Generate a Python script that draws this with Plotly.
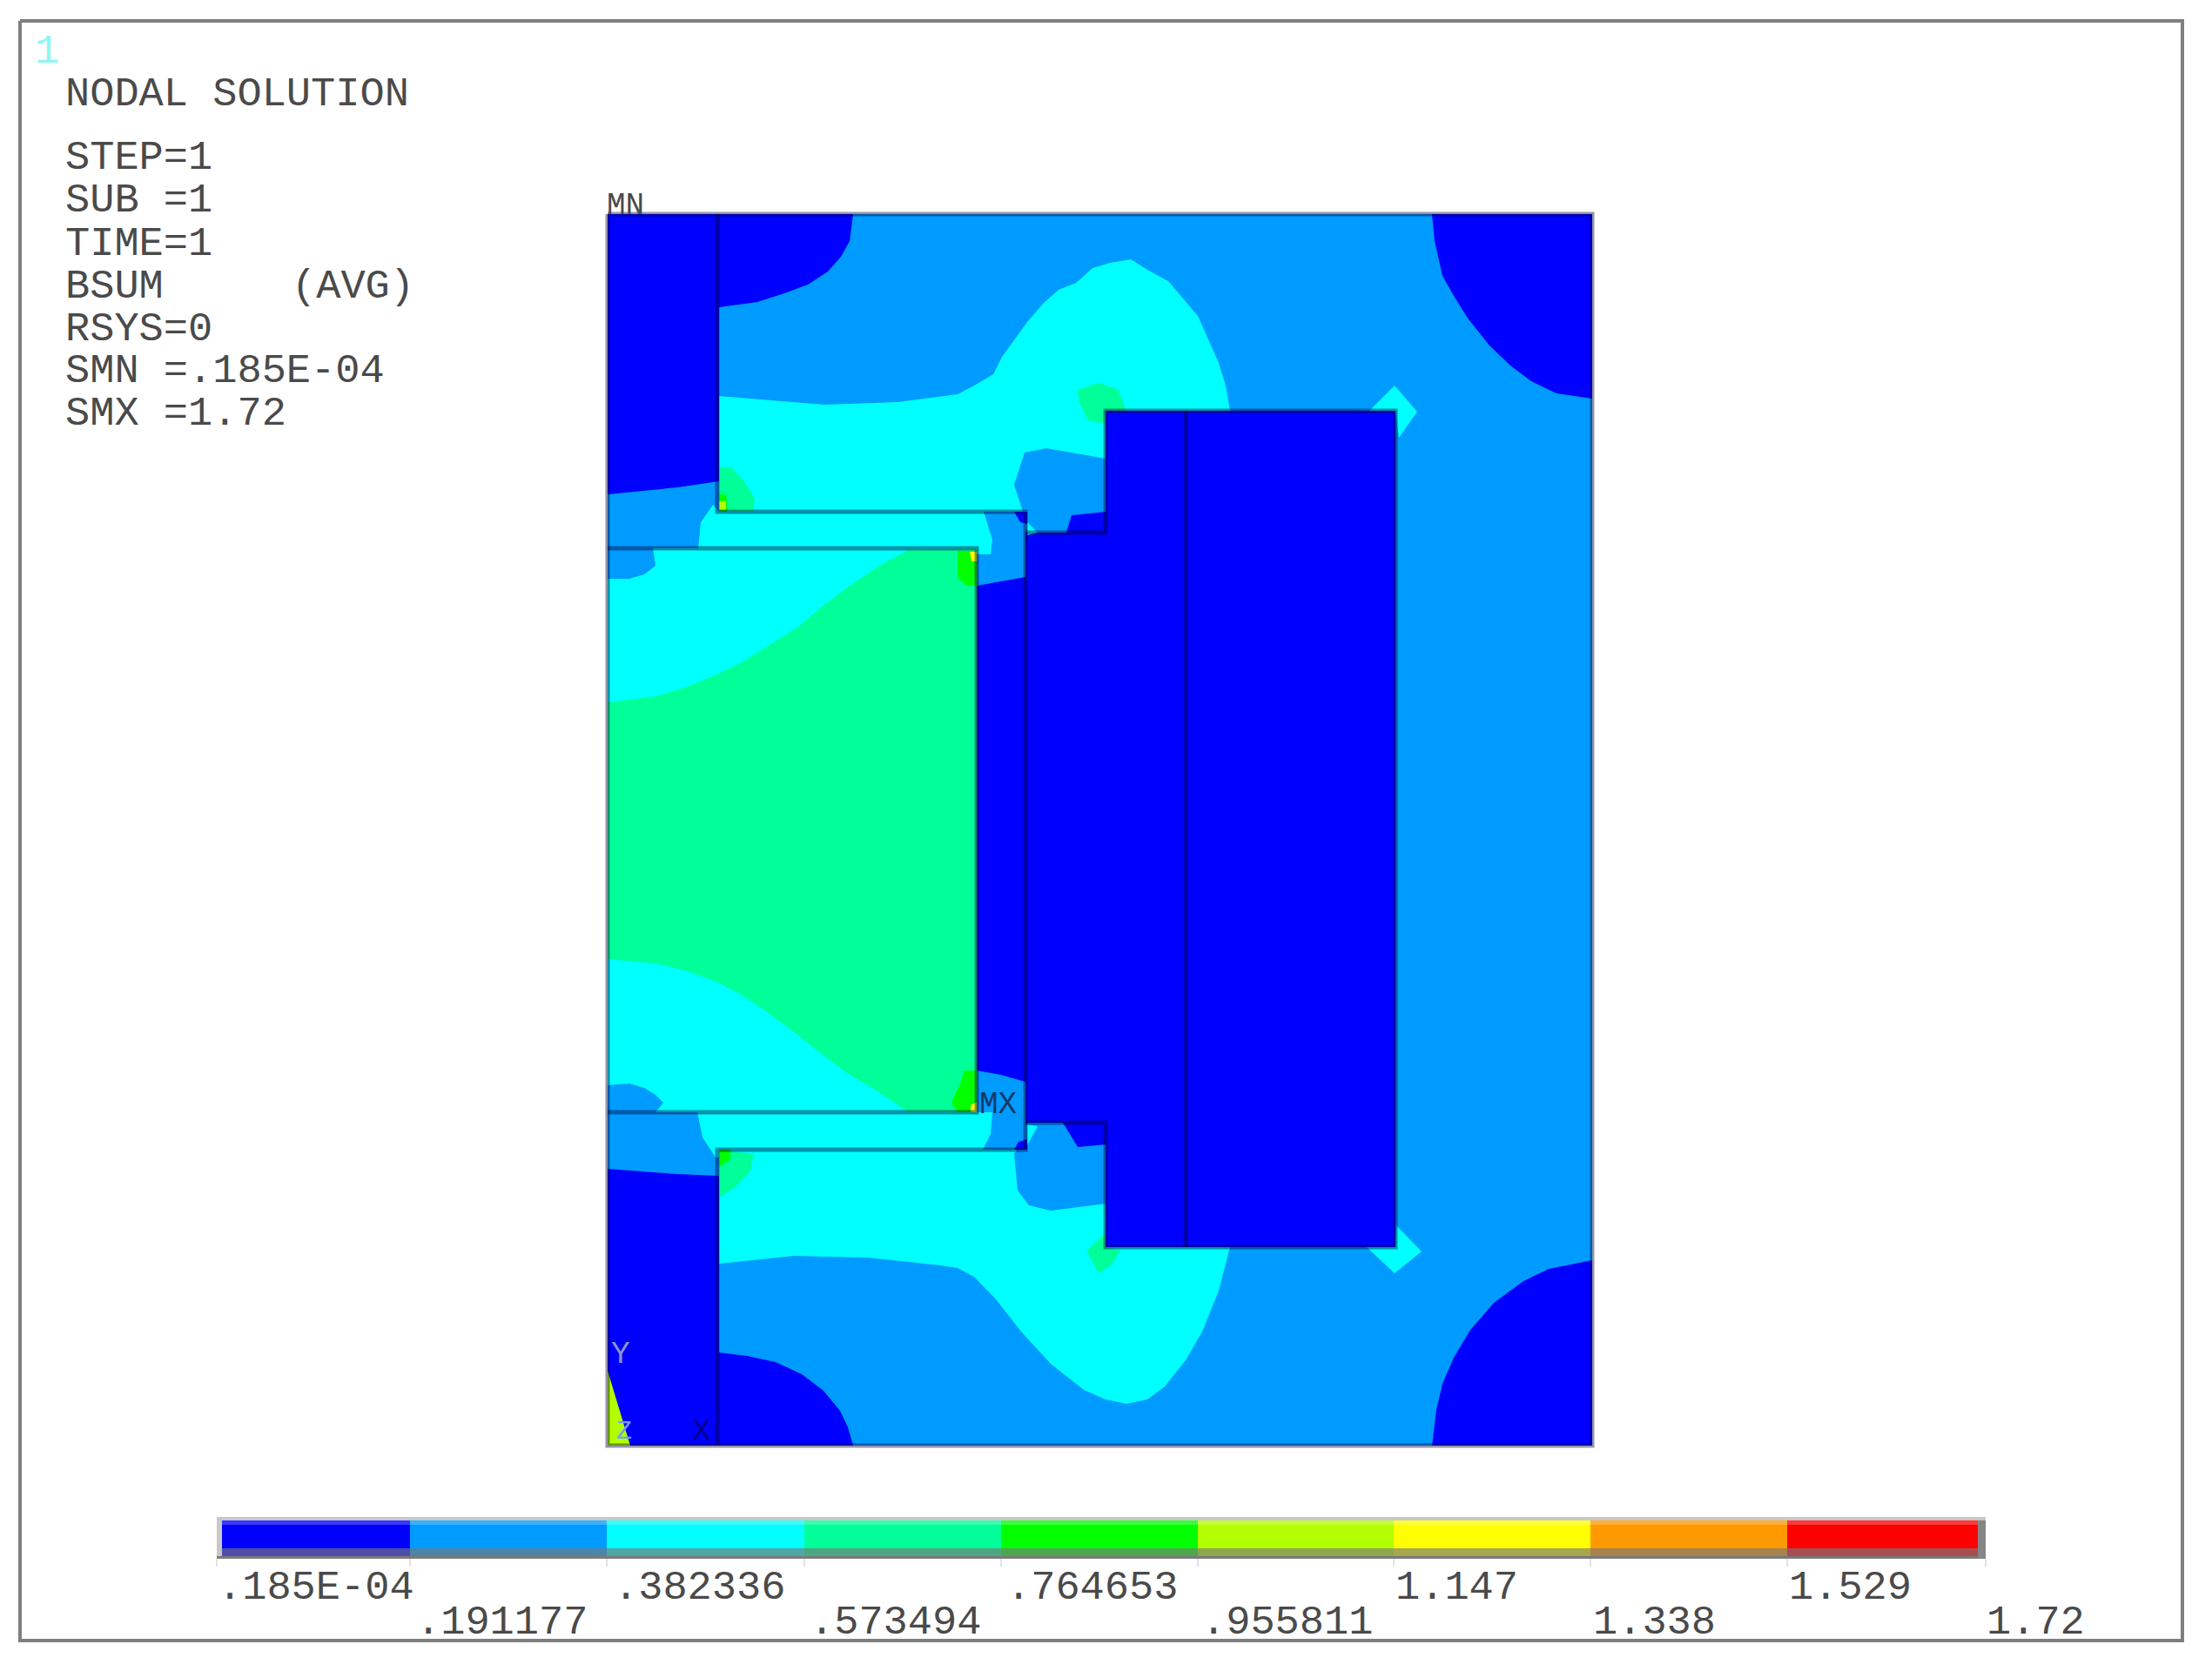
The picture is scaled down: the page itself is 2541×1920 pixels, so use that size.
import plotly.graph_objects as go

BLUE, SKY, CYAN, MINT, GREEN, LIME, YELLOW, ORANGE, RED = (
    "#0000ff", "#009bff", "#00ffff", "#00ff99", "#00ff00", "#b3ff00", "#ffff00", "#ff9900", "#ff0000")

# colour legend
LEVEL_COLORS = [BLUE, SKY, CYAN, MINT, GREEN, LIME, YELLOW, ORANGE, RED]
LEVEL_EDGES = [255, 471, 697, 924, 1150, 1376, 1601, 1827, 2053, 2272]
TICK_POS = [249, 471, 697, 924, 1150, 1376, 1601, 1827, 2053, 2281]
TICK_LABELS = [".185E-04", ".191177", ".382336", ".573494", ".764653", ".955811", "1.147", "1.338", "1.529", "1.72"]
LABEL_X = [250, 478, 705, 930, 1156, 1380, 1603, 1830, 2055, 2282]

# header text
HEADER_LINES = ["STEP=1", "SUB =1", "TIME=1", "BSUM", "RSYS=0", "SMN =.185E-04", "SMX =1.72"]
HEADER_Y = [178, 227, 277, 326, 375, 423, 472]

# contour bands, painter's order
DOMAIN = [(698, 246), (1829, 246), (1829, 1661), (698, 1661)]
COL_TOP = [(698, 246), (980, 246), (976, 277), (966, 295), (951, 312), (928, 327), (901, 337), (870, 347), (826, 353),
           (826, 553), (778, 560), (698, 568)]
COL_BOTTOM = [(698, 1343), (778, 1349), (826, 1351), (826, 1554), (858, 1558), (891, 1565), (921, 1579), (946, 1598),
              (965, 1621), (974, 1640), (980, 1661), (698, 1661)]
CORNER_TR = [(1645, 246), (1648, 277), (1657, 317), (1670, 340), (1687, 367), (1711, 397), (1735, 420), (1759, 438),
             (1788, 452), (1829, 458), (1829, 246)]
CORNER_BR = [(1645, 1661), (1650, 1620), (1657, 1590), (1670, 1560), (1689, 1528), (1716, 1497), (1750, 1472),
             (1779, 1458), (1829, 1448), (1829, 1661)]
CYAN_TOP = [(826, 455), (890, 460), (947, 465), (1031, 462), (1081, 455), (1100, 453), (1119, 443), (1141, 430),
            (1151, 410), (1163, 393), (1180, 370), (1199, 348), (1216, 333), (1236, 325), (1255, 308), (1275, 302),
            (1299, 298), (1318, 310), (1342, 323), (1359, 343), (1376, 363), (1388, 390), (1400, 417), (1408, 443),
            (1413, 472), (1270, 472), (1270, 527), (1202, 515), (1177, 520), (1165, 557), (1175, 588), (826, 588)]
CYAN_BOTTOM = [(826, 1452), (912, 1443), (997, 1445), (1081, 1454), (1100, 1457), (1119, 1467), (1144, 1493),
               (1173, 1530), (1207, 1567), (1245, 1597), (1270, 1608), (1294, 1613), (1318, 1608), (1338, 1593),
               (1362, 1563), (1381, 1530), (1400, 1483), (1413, 1433), (1270, 1433), (1270, 1383), (1207, 1391),
               (1182, 1385), (1169, 1368), (1165, 1326), (1168, 1321), (826, 1321)]
CHANNEL_TOP = [(819, 580), (805, 600), (802, 630), (1138, 637), (1140, 620), (1130, 588), (826, 588)]
CHANNEL_BOTTOM = [(801, 1278), (807, 1307), (822, 1330), (1129, 1321), (1138, 1303), (1140, 1278)]
INNER = [(698, 665), (723, 665), (740, 660), (753, 650), (750, 630), (1122, 630), (1122, 1278), (753, 1278), (762, 1267),
         (753, 1258), (740, 1250), (723, 1245), (698, 1247)]
INNER_MINT = [(698, 807), (753, 800), (787, 790), (823, 775), (850, 762), (873, 748), (917, 720), (943, 698), (973, 675),
              (1010, 650), (1043, 632), (1122, 630), (1122, 1278), (1043, 1278), (1007, 1253), (973, 1233), (940, 1208),
              (907, 1182), (877, 1160), (850, 1142), (823, 1128), (787, 1115), (753, 1107), (698, 1102)]
BAR = [(1122, 673), (1150, 668), (1178, 663), (1178, 1243), (1150, 1235), (1122, 1230)]
BLOCK = [(1178, 612), (1270, 612), (1270, 472), (1603, 472), (1603, 1433), (1270, 1433), (1270, 1290), (1178, 1290)]
NOTCH_TOP = [(1231, 592), (1270, 588), (1270, 615), (1224, 615)]
NOTCH_BOTTOM = [(1221, 1290), (1270, 1290), (1270, 1315), (1238, 1318)]
SPOT_TOP = [(1165, 588), (1180, 588), (1180, 602), (1172, 600)]
SPOT_BOTTOM = [(1165, 1321), (1180, 1321), (1180, 1309), (1170, 1312)]
SLIVER_TOP = [(1180, 600), (1192, 612), (1180, 615)]
SLIVER_BOTTOM = [(1180, 1292), (1192, 1294), (1180, 1316)]
MINT_A = [(826, 537), (840, 537), (855, 553), (867, 573), (865, 588), (826, 588)]
MINT_B = [(826, 1321), (866, 1326), (862, 1345), (845, 1364), (826, 1376)]
MINT_C = [(1238, 448), (1262, 440), (1284, 447), (1294, 472), (1270, 472), (1270, 487), (1250, 483), (1240, 463)]
MINT_D = [(1270, 1417), (1270, 1433), (1287, 1437), (1277, 1453), (1262, 1463), (1248, 1437)]
DIAMOND_TOP = [(1602, 443), (1628, 473), (1607, 503), (1603, 472), (1573, 472)]
DIAMOND_BOTTOM = [(1604, 1408), (1633, 1438), (1602, 1463), (1570, 1433), (1603, 1433)]
HOT_A = [(826, 568), (834, 568), (836, 588), (826, 588)]
HOT_B = [(826, 1321), (839, 1321), (839, 1332), (826, 1341)]
HOT_C = [(1100, 633), (1100, 663), (1110, 673), (1122, 673), (1122, 633)]
HOT_D = [(1108, 1230), (1102, 1247), (1093, 1267), (1100, 1278), (1122, 1278), (1122, 1230)]
LIME_A = [(826, 576), (834, 576), (834, 586), (826, 586)]
YEL_C = [(1114, 634), (1122, 634), (1122, 645), (1116, 645)]
YEL_D = [(1115, 1270), (1122, 1266), (1122, 1278), (1115, 1278)]
TRIAD = [(698, 1575), (724, 1661), (698, 1661)]

BANDS = [
    (DOMAIN, SKY), (COL_TOP, BLUE), (COL_BOTTOM, BLUE), (CORNER_TR, BLUE), (CORNER_BR, BLUE),
    (CYAN_TOP, CYAN), (CYAN_BOTTOM, CYAN), (CHANNEL_TOP, CYAN), (CHANNEL_BOTTOM, CYAN),
    (DIAMOND_TOP, CYAN), (DIAMOND_BOTTOM, CYAN), (INNER, CYAN), (INNER_MINT, MINT),
    (BAR, BLUE), (BLOCK, BLUE), (NOTCH_TOP, BLUE), (NOTCH_BOTTOM, BLUE), (SPOT_TOP, BLUE), (SPOT_BOTTOM, BLUE),
    (SLIVER_TOP, CYAN), (SLIVER_BOTTOM, CYAN), (MINT_A, MINT), (MINT_B, MINT), (MINT_C, MINT), (MINT_D, MINT),
    (HOT_A, GREEN), (HOT_B, GREEN), (HOT_C, GREEN), (HOT_D, GREEN), (LIME_A, LIME), (YEL_C, YELLOW), (YEL_D, YELLOW),
    (TRIAD, LIME),
]

# element outlines
OUTLINES = [
    [(698, 246), (1829, 246), (1829, 1661), (698, 1661), (698, 246)],
    [(824, 246), (824, 588), (1178, 588), (1178, 1321), (824, 1321), (824, 1661)],
    [(698, 630), (1122, 630), (1122, 1278), (698, 1278)],
    [(1178, 612), (1270, 612), (1270, 472), (1603, 472), (1603, 1433), (1270, 1433), (1270, 1290), (1178, 1290)],
    [(1362, 472), (1362, 1433)],
]
FRAME = [(23, 24), (2507, 24), (2507, 1885), (23, 1885), (23, 24)]

MONO = "Liberation Mono"
TEXT = "#4a4a4a"

fig = go.Figure()


def poly(points, color):
    fig.add_trace(go.Scatter(x=[p[0] for p in points], y=[p[1] for p in points], mode="lines", fill="toself",
                             fillcolor=color, line=dict(width=0), hoverinfo="skip", showlegend=False))


def path(points, color, width):
    fig.add_trace(go.Scatter(x=[p[0] for p in points], y=[p[1] for p in points], mode="lines",
                             line=dict(color=color, width=width), hoverinfo="skip", showlegend=False))


def label(x, y, s, size=47, color=TEXT):
    fig.add_annotation(x=x, y=y, text=s, showarrow=False, xanchor="left", yanchor="middle", align="left",
                       borderpad=0, borderwidth=0,
                       font=dict(family=MONO, size=size, color=color))


for pts, col in BANDS:
    poly(pts, col)
for pts in OUTLINES:
    path(pts, "rgba(0,0,50,0.42)", 5)
path(FRAME, "#7f7f7f", 4)

# legend bar
poly([(249, 1743), (2281, 1743), (2281, 1791), (249, 1791)], "#c8c8c8")
poly([(249, 1788), (2281, 1788), (2281, 1791), (249, 1791)], "#7a7a7a")
poly([(2272, 1747), (2281, 1747), (2281, 1791), (2272, 1791)], "#858585")
for i, col in enumerate(LEVEL_COLORS):
    a, b = LEVEL_EDGES[i], LEVEL_EDGES[i + 1]
    poly([(a, 1747), (b, 1747), (b, 1788), (a, 1788)], col)
    poly([(a, 1747), (b, 1747), (b, 1752), (a, 1752)], "rgba(255,255,255,0.22)")
    poly([(a, 1779), (b, 1779), (b, 1788), (a, 1788)], "rgba(120,120,120,0.65)")
for x in TICK_POS:
    path([(x, 1791), (x, 1800)], "#e2e2e2", 2)
for i, s in enumerate(TICK_LABELS):
    label(LABEL_X[i], 1824 if i % 2 == 0 else 1864, s)

label(75, 108, "NODAL SOLUTION")
for y, s in zip(HEADER_Y, HEADER_LINES):
    label(75, y + 3, s)
label(335, 329, "(AVG)")
label(40, 59, "1", 47, "#8ff5f5")
label(697, 236, "MN", 36)
label(1125, 1269, "MX", 36, "#123a66")
label(702, 1556, "Y", 36, "#8c94c8")
label(795, 1645, "X", 36, "#000090")
label(708, 1645, "Z", 30, "#6fa0ff")

fig.update_layout(
    width=2541, height=1920, margin=dict(l=0, r=0, t=0, b=0), autosize=False,
    paper_bgcolor="white", plot_bgcolor="white", showlegend=False,
    xaxis=dict(range=[0, 2541], visible=False, fixedrange=True),
    yaxis=dict(range=[1920, 0], visible=False, fixedrange=True),
)
fig.write_html("out.html", config={"displayModeBar": False},
               post_script="document.body.style.margin='0';document.body.style.overflow='hidden';")
